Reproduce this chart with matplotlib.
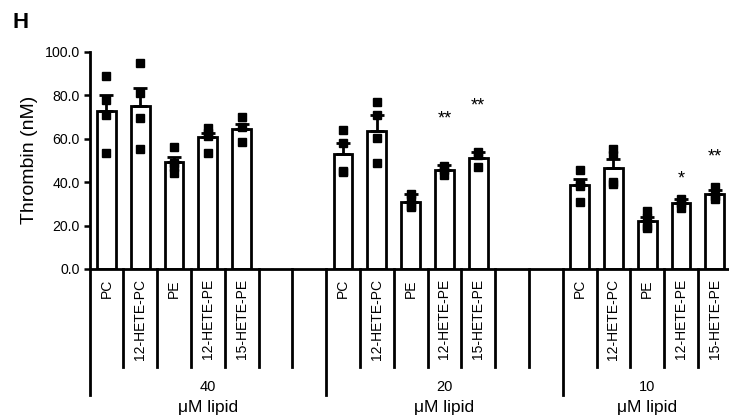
import matplotlib
matplotlib.use("Agg")
import matplotlib.pyplot as plt
import matplotlib.transforms as mtransforms
import numpy as np

plt.rcParams['font.family'] = ['Liberation Sans', 'DejaVu Sans']

# ---- data ----
lipids = ["PC", "12-HETE-PC", "PE", "12-HETE-PE", "15-HETE-PE"]
concentrations = ["40", "20", "10"]

means_40 = [72.7, 75.0, 49.3, 60.6, 64.3]
means_20 = [52.9, 63.7, 31.0, 45.6, 51.2]
means_10 = [38.7, 46.7, 22.0, 30.2, 34.3]

sem_40 = [7.4, 8.4, 2.4, 2.2, 2.3]
sem_20 = [5.0, 7.2, 3.7, 2.2, 2.6]
sem_10 = [2.8, 4.0, 1.8, 2.0, 2.1]

points_40 = [[88.8, 77.8, 70.9, 53.2], [94.7, 80.9, 69.6, 55.1], [56.0, 49.0, 47.0, 44.0],
             [64.7, 62.8, 61.0, 53.5], [70.1, 65.5, 58.6]]
points_20 = [[64.0, 57.8, 45.1, 44.5], [76.7, 70.9, 60.1, 48.6], [34.5, 32.0, 29.0, 28.5],
             [47.4, 45.5, 43.3], [54.0, 52.5, 46.8]]
points_10 = [[45.6, 39.4, 38.0, 31.0], [55.0, 52.5, 40.0, 39.0], [26.7, 23.5, 20.0, 18.7],
             [32.0, 30.5, 28.0], [37.6, 33.5, 32.0]]

# significance marks: (concentration, lipid, mark, height)
stars = [("20", "12-HETE-PE", "**", 69.0), ("20", "15-HETE-PE", "**", 75.0),
         ("10", "12-HETE-PE", "*", 41.5), ("10", "15-HETE-PE", "**", 51.5)]

yticks = [0, 20, 40, 60, 80, 100]
ylabel = "Thrombin (nM)"
group_unit = "\u03bcM lipid"

means = [means_40, means_20, means_10]
sems = [sem_40, sem_20, sem_10]
points = [points_40, points_20, points_10]

# ---- layout ----
W, H = 729, 419
fig = plt.figure(figsize=(W / 100, H / 100), dpi=100)
left_px, right_px = 89.5, 89.5 + 19 * 33.8
bot_px, top_px = 269, 51.7
ax = fig.add_axes([left_px / W, (H - bot_px) / H, (right_px - left_px) / W, (bot_px - top_px) / H])

slots_per_group = [7, 7, 5]
starts = np.cumsum([0] + slots_per_group[:-1])
bar_w = 0.56
lw = 2.0

for g, conc in enumerate(concentrations):
    xs = starts[g] + np.arange(len(lipids)) + 0.5
    ax.bar(xs, means[g], width=bar_w, color="white", edgecolor="black", linewidth=lw, zorder=2)
    for i, pts in enumerate(points[g]):
        ax.plot([xs[i]] * len(pts), pts, linestyle="none", marker="s", markersize=6,
                color="black", zorder=3)
    ax.errorbar(xs, means[g], yerr=[np.zeros(len(lipids)), sems[g]], fmt="none",
                ecolor="black", elinewidth=lw, capsize=5, capthick=lw, zorder=4)

for conc, lip, mark, h in stars:
    g = concentrations.index(conc)
    x = starts[g] + lipids.index(lip) + 0.5
    ax.text(x, h, mark, ha="center", va="center", fontsize=13, zorder=5)

ax.set_xlim(0, 19)
ax.set_ylim(0, 100)
ax.set_yticks(yticks)
ax.set_yticklabels([f"{v:.1f}" for v in yticks], fontsize=10.2)
ax.tick_params(axis="y", direction="out", length=4, width=1.8, pad=3)
ax.set_xticks([])
ax.set_ylabel(ylabel, fontsize=14, labelpad=5)
for s in ["top", "right"]:
    ax.spines[s].set_visible(False)
ax.spines["left"].set_linewidth(2.0)
ax.spines["bottom"].set_linewidth(2.0)

# category table below the axis
tr = mtransforms.blended_transform_factory(ax.transData, ax.transAxes)
ax_h_px = bot_px - top_px
def ya(px):
    return (bot_px - px) / ax_h_px

for g, conc in enumerate(concentrations):
    s0 = starts[g]
    n = slots_per_group[g]
    ax.plot([s0, s0], [0, ya(395)], color="black", lw=2.0, transform=tr, clip_on=False)
    for k in range(1, n):
        ax.plot([s0 + k, s0 + k], [0, ya(367)], color="black", lw=2.0, transform=tr, clip_on=False)
    for i, lip in enumerate(lipids):
        ax.text(s0 + i + 0.5, ya(279), lip, rotation=90, ha="center", va="top",
                fontsize=10, transform=tr)
    ax.text(s0 + n / 2, ya(386.5), conc, ha="center", va="center", fontsize=10.5, transform=tr)
    ax.text(s0 + n / 2, ya(407.5), group_unit, ha="center", va="center", fontsize=12.5, transform=tr)
ax.plot([19, 19], [0, ya(395)], color="black", lw=2.0, transform=tr, clip_on=False)

fig.text(12 / W, 1 - 23 / H, "H", fontsize=16, fontweight="bold", ha="left", va="center")

fig.savefig("out.png", dpi=100)
